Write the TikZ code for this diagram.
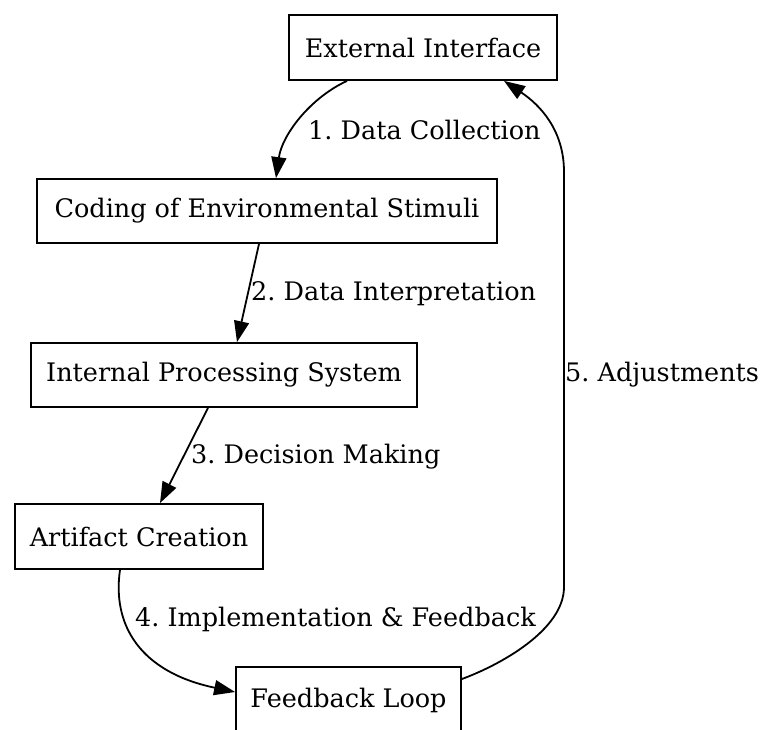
\documentclass[tikz,border=0pt]{standalone}
\usepackage{fontspec}
\setmainfont{DejaVu Serif}
\usetikzlibrary{arrows.meta,calc}
\frenchspacing
\tikzset{
  box/.style={draw, line width=1.8pt, rectangle, inner sep=0pt, font=\fontsize{25.5}{30}\selectfont},
  flow/.style={line width=1.8pt, -{Triangle[length=21pt,width=15pt]}},
  lbl/.style={anchor=west, inner sep=0pt, font=\fontsize{25.5}{30}\selectfont}
}
\begin{document}
\begin{tikzpicture}[x=1pt,y=1pt]
\useasboundingbox (0,0) rectangle (760,-729);
\clip (0,0) rectangle (760,-729);

% process stages
\node[box, minimum width=268pt, minimum height=65pt] (ext) at (423,-47.5) {External Interface};
\node[box, minimum width=460pt, minimum height=64pt] (cod) at (267,-211) {Coding of Environmental Stimuli};
\node[box, minimum width=386pt, minimum height=64pt] (int) at (224,-375) {Internal Processing System};
\node[box, minimum width=248pt, minimum height=65pt] (art) at (139,-536.5) {Artifact Creation};
\node[box, minimum width=225pt, minimum height=66pt] (fb) at (348.5,-700) {Feedback Loop};

% transitions
\draw[flow] ($(ext.south)+(-76,0)$) .. controls (310,-98) and (282,-135) .. ($(cod.north)+(9,0)$);
\draw[flow] ($(cod.south)+(-8,0)$) -- ($(int.north)+(13,0)$);
\draw[flow] ($(int.south)+(-16,0)$) -- ($(art.north)+(21,0)$);
\draw[flow] ($(art.south)+(-19,0)$) .. controls (112,-625) and (140,-672) .. ($(fb.west)+(0,8)$);
\draw[flow] ($(fb.east)+(0,21)$) .. controls (500,-665) and (564,-630) .. (564,-587)
  -- (564,-172) .. controls (564,-130) and (540,-105) .. ($(ext.south)+(81,0)$);

% transition labels
\node[lbl] (l1) at (308,-130) {1. Data Collection};
\node[lbl] (l2) at (251,-294) {2. Data Interpretation};
\node[lbl] (l3) at (191,-457) {3. Decision Making};
\node[lbl] (l4) at (135,-619) {4. Implementation \& Feedback};
\node[lbl] (l5) at (565,-375) {5. Adjustments};
\end{tikzpicture}
\end{document}
